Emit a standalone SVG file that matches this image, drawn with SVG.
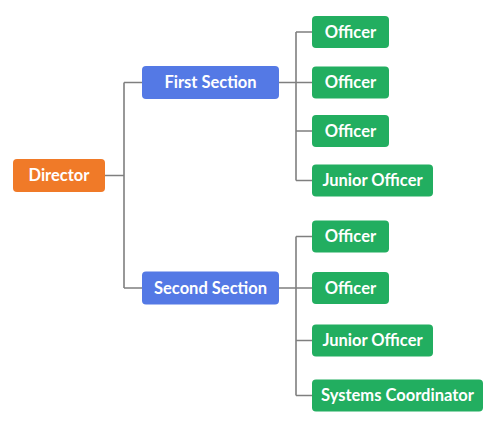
<svg xmlns="http://www.w3.org/2000/svg" width="500" height="429" viewBox="0 0 500 429">
<style>
.box{stroke:none}
.dir{fill:#F07A28}
.sec{fill:#5479E5}
.off{fill:#22AE60}
.lbl{font-family:Lato,"Liberation Sans",Arial,sans-serif;font-weight:bold;font-size:16.5px;fill:#ffffff;text-anchor:middle;dominant-baseline:central}
.conn{fill:none;stroke:#7f7f7f;stroke-width:1.6}
</style>
<rect width="500" height="429" fill="#ffffff"/>
<g id="connectors">
<path class="conn" d="M105,175.5 H124 M124,82.5 V288 M124,82.5 H142 M124,288 H142"/>
<path class="conn" d="M279,82.5 H296 M296,32 V180.5 M296,32 H312 M296,82.5 H312 M296,131 H312 M296,180.5 H312"/>
<path class="conn" d="M279,288 H296 M296,236.5 V395.5 M296,236.5 H312 M296,288 H312 M296,340.5 H312 M296,395.5 H312"/>
</g>
<g id="director"><rect class="box dir" x="13" y="159" width="92" height="33" rx="4"/><text class="lbl" x="59" y="175">Director</text></g>
<g id="first-section"><rect class="box sec" x="142" y="66" width="137" height="33" rx="4"/><text class="lbl" x="210.5" y="82">First Section</text></g>
<g id="second-section"><rect class="box sec" x="142" y="271.5" width="137" height="33" rx="4"/><text class="lbl" x="210.5" y="287.5">Second Section</text></g>
<g id="officer-1"><rect class="box off" x="312" y="16" width="77" height="32" rx="4"/><text class="lbl" x="350.5" y="31.5">Officer</text></g>
<g id="officer-2"><rect class="box off" x="312" y="66.5" width="77" height="32" rx="4"/><text class="lbl" x="350.5" y="82">Officer</text></g>
<g id="officer-3"><rect class="box off" x="312" y="115" width="77" height="32" rx="4"/><text class="lbl" x="350.5" y="130.5">Officer</text></g>
<g id="junior-officer-1"><rect class="box off" x="312" y="164.5" width="121" height="32" rx="4"/><text class="lbl" x="372.5" y="180">Junior Officer</text></g>
<g id="officer-4"><rect class="box off" x="312" y="220.5" width="77" height="32" rx="4"/><text class="lbl" x="350.5" y="236">Officer</text></g>
<g id="officer-5"><rect class="box off" x="312" y="272" width="77" height="32" rx="4"/><text class="lbl" x="350.5" y="287.5">Officer</text></g>
<g id="junior-officer-2"><rect class="box off" x="312" y="324.5" width="121" height="32" rx="4"/><text class="lbl" x="372.5" y="340">Junior Officer</text></g>
<g id="systems-coordinator"><rect class="box off" x="312" y="379.5" width="171" height="32" rx="4"/><text class="lbl" x="397.5" y="395">Systems Coordinator</text></g>
</svg>
